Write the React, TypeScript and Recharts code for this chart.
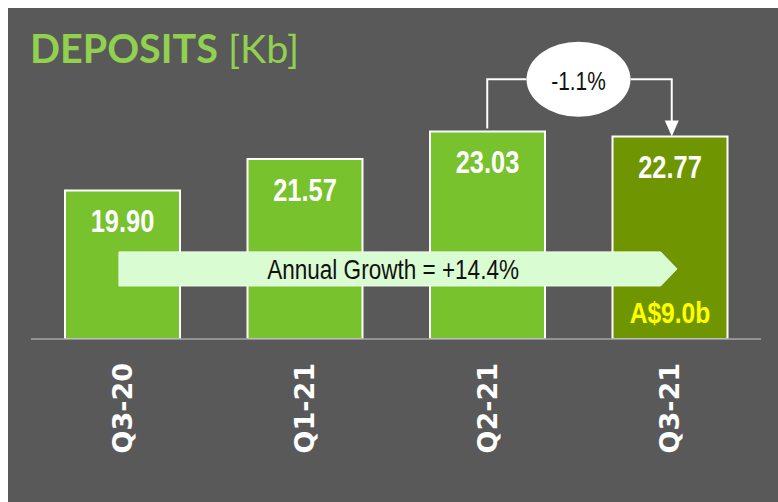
import React from "react";
import { BarChart, Bar, XAxis, YAxis, Cell, LabelList, ReferenceArea } from "recharts";

const categories = ["Q3-20", "Q1-21", "Q2-21", "Q3-21"];
const deposits = [19.9, 21.57, 23.03, 22.77];
const valueLabels = ["19.90", "21.57", "23.03", "22.77"];
const baseLabels = ["", "", "", "A$9.0b"];
const barColors = ["#77c22d", "#77c22d", "#77c22d", "#6f9600"];
const growthText = "Annual Growth = +14.4%";
const changeText = "-1.1%";
const titleMain = "DEPOSITS";
const titleUnit = "[Kb]";

const Y_MIN = 12;
const Y_MAX = 28;
const BUBBLE_TOP = 27.8;
const ARROW_LOW = 14.82;
const ARROW_HIGH = 16.63;

const data = categories.map((c, i) => ({ name: c, value: deposits[i] }));

const SANS = "'Liberation Sans', Arial, sans-serif";

const NarrowText = (p: any) => {
  const { x, y, children, ...rest } = p;
  return (
    <text transform={`translate(${x},${y}) scale(0.82,1)`} x={0} y={0} textAnchor="middle" fontFamily={SANS} {...rest}>
      {children}
    </text>
  );
};

const ValueLabel = (props: any) => {
  const vb = props.viewBox && props.viewBox.width != null ? props.viewBox : props;
  const { x, y, width, height } = vb;
  const index = props.index;
  const cx = x + width / 2;
  return (
    <g>
      <NarrowText x={cx} y={y + 42} fill="#ffffff" fontWeight="bold" fontSize={31}>
        {valueLabels[index]}
      </NarrowText>
      {baseLabels[index] ? (
        <NarrowText x={cx} y={y + height - 16} fill="#ffff00" fontWeight="bold" fontSize={30}>
          {baseLabels[index]}
        </NarrowText>
      ) : null}
    </g>
  );
};

const Tick = (props: any) => {
  const { x, y, payload } = props;
  return (
    <text
      transform={`translate(${x},${y + 24}) rotate(-90)`}
      textAnchor="end"
      dy="0.36em"
      fill="#ffffff"
      fontSize={27}
      fontWeight="bold"
      fontFamily="'DejaVu Sans', Verdana, sans-serif"
    >
      {payload.value}
    </text>
  );
};

const GrowthArrow = (p: any) => {
  const { x, y, width, height } = p;
  const band = width / categories.length;
  const left = x + band * 0.482;
  const bodyEnd = x + band * 3.45;
  const tip = x + band * 3.54;
  const midY = y + height / 2;
  const pts = `${left},${y} ${bodyEnd},${y} ${tip},${midY} ${bodyEnd},${y + height} ${left},${y + height}`;
  return (
    <g>
      <polygon points={pts} fill="#dafcd3" stroke="#eefde9" strokeWidth={1} />
      <NarrowText x={x + band * 1.984} y={midY + 10} fill="#111111" fontSize={27.5}>
        {growthText}
      </NarrowText>
    </g>
  );
};

const ChangeBubble = (p: any) => {
  const { x, y, width, height } = p;
  const band = width / 2;
  const bottom = y + height;
  const pxPerUnit = height / (BUBBLE_TOP - deposits[3]);
  const q2Top = bottom - (deposits[2] - deposits[3]) * pxPerUnit;
  const cx = x + band;
  const ry = 37.5;
  const rx = 52;
  const cy = y + ry;
  const lx = x + band * 0.5;
  const rX = x + band * 1.5 + 2;
  return (
    <g>
      <path d={`M${lx},${q2Top - 3} V${cy} H${cx - rx}`} fill="none" stroke="#ffffff" strokeWidth={2} />
      <path d={`M${cx + rx},${cy} H${rX} V${bottom - 15}`} fill="none" stroke="#ffffff" strokeWidth={2} />
      <polygon points={`${rX - 7},${bottom - 16} ${rX + 7},${bottom - 16} ${rX},${bottom}`} fill="#ffffff" />
      <ellipse cx={cx} cy={cy} rx={rx} ry={ry} fill="#ffffff" />
      <NarrowText x={cx} y={cy + 10.5} fill="#111111" fontSize={25.5}>
        {changeText}
      </NarrowText>
    </g>
  );
};

export default function App() {
  return (
    <div style={{ position: "fixed", left: 8, top: 8, right: 0, bottom: 0, background: "#595959", overflow: "hidden" }}>
      <svg width={770} height={80} style={{ position: "absolute", left: 0, top: 0 }}>
        <text x={22} y={55} fontFamily="Lato, 'Open Sans', sans-serif" fontSize={39.5} fill="#92d050">
          <tspan fontWeight="bold">{titleMain}</tspan>
          <tspan fontWeight="normal">{" " + titleUnit}</tspan>
        </text>
      </svg>
      <div style={{ position: "absolute", left: 0, top: 0 }}>
        <BarChart width={770} height={494} data={data} margin={{ top: 30, right: 17, bottom: 33, left: 23 }}>
          <YAxis hide domain={[Y_MIN, Y_MAX]} allowDataOverflow />
          <XAxis
            dataKey="name"
            height={130}
            axisLine={{ stroke: "#a6a6a6", strokeWidth: 1.5 }}
            tickLine={false}
            tickSize={0}
            tickMargin={0}
            tick={<Tick />}
            interval={0}
          />
          <Bar dataKey="value" barSize={115} stroke="#ffffff" strokeWidth={2} isAnimationActive={false}>
            {data.map((d, i) => (
              <Cell key={d.name} fill={barColors[i]} />
            ))}
            <LabelList dataKey="value" content={<ValueLabel />} />
          </Bar>
          <ReferenceArea x1="Q3-20" x2="Q3-21" y1={ARROW_LOW} y2={ARROW_HIGH} ifOverflow="visible" shape={<GrowthArrow />} zIndex={1000} />
          <ReferenceArea x1="Q2-21" x2="Q3-21" y1={deposits[3]} y2={BUBBLE_TOP} ifOverflow="visible" shape={<ChangeBubble />} zIndex={1000} />
        </BarChart>
      </div>
    </div>
  );
}
